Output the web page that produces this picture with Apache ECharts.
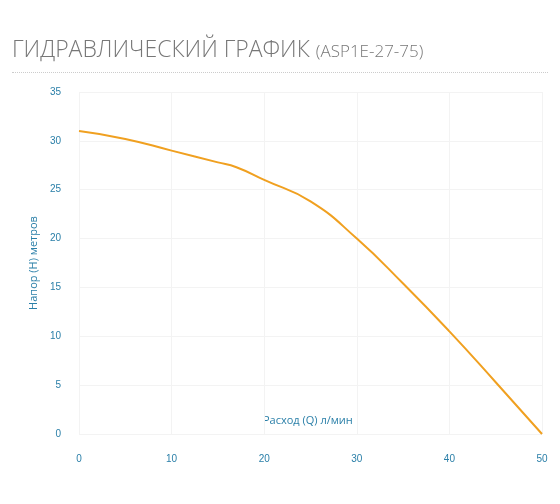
<!DOCTYPE html><html><head><meta charset="utf-8">
<script src="https://cdn.jsdelivr.net/npm/echarts@6/dist/echarts.min.js"></script>
<style>body{margin:0;background:#fff}#t{position:absolute;left:12px;top:32px;font-family:"Open Sans";color:#777;font-size:23px;font-weight:300}#t span{font-size:17px}#l{position:absolute;left:12px;right:12px;top:72px;border-top:1px dotted #ccc}#c{position:absolute;left:0;top:0;width:560px;height:504px}</style>
</head><body><div id="c"></div><div id="t">ГИДРАВЛИЧЕСКИЙ ГРАФИК <span>(ASP1E-27-75)</span></div><div id="l"></div>
<script>
const flow=[0,5,10,15,17,20,25,30,35,40,45,50];
const head=[31,30.2,29,27.8,27.3,26,23.8,20,15.4,10.5,5.3,0];
const xName='Расход (Q) л/мин';
const tc='#2a7fa8';
const ch=echarts.init(document.getElementById('c'));
ch.setOption({animation:false,
grid:{left:79,right:18,top:92,bottom:70},
graphic:[{type:'text',left:263,top:415,style:{text:xName,fill:tc,fontSize:11,fontFamily:'Open Sans'}}],
xAxis:{type:'value',min:0,max:50,interval:10,
 axisLine:{show:false},axisTick:{show:false},axisLabel:{color:tc,fontSize:10,margin:20},
 splitLine:{lineStyle:{color:'#f3f3f3'}}},
yAxis:{type:'value',min:0,max:35,interval:5,name:'Напор (H) метров',nameLocation:'middle',nameGap:40,
 nameTextStyle:{color:tc,fontSize:11,fontFamily:'Open Sans'},
 axisLine:{show:false},axisTick:{show:false},axisLabel:{color:tc,fontSize:10,margin:18},
 splitLine:{lineStyle:{color:'#f3f3f3'}}},
series:[{type:'line',smooth:0.5,symbol:'none',data:flow.map((x,i)=>[x,head[i]]),lineStyle:{color:'#f0a020',width:2}}]});
</script></body></html>
